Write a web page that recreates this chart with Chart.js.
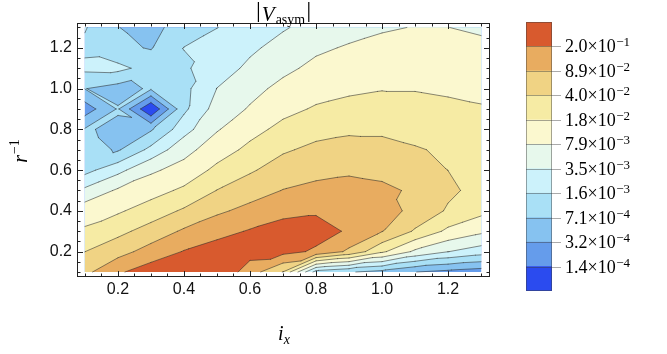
<!DOCTYPE html>
<html>
<head>
<meta charset="utf-8">
<script src="https://cdn.jsdelivr.net/npm/chart.js@4"></script>
<style>
  html, body { margin: 0; padding: 0; background: #fff; }
  #wrap { position: relative; width: 667px; height: 354px; }
  #main { position: absolute; left: 0; top: 0; }
  #bar { position: absolute; left: 500px; top: 0; }
</style>
</head>
<body>
<div id="wrap">
  <canvas id="main" width="667" height="354"></canvas>
  <canvas id="bar" width="167" height="354"></canvas>
</div>
<script>
// grid of the contour plot
const xs = [0.1, 0.2, 0.3, 0.4, 0.5, 0.6, 0.7, 0.8, 0.9, 1.0, 1.1, 1.2, 1.3];
const ys = [0.1, 0.2, 0.3, 0.4, 0.5, 0.6, 0.7, 0.8, 0.9, 1.0, 1.1, 1.2, 1.3];

// log10 |V_asym|, one row per r^-1 value (bottom row first)
const logV = [
  [-1.14, -0.75, -0.51, -0.35, -0.38, -0.88, -1.41, -2.94, -3.12, -3.26, -3.49, -3.59, -3.68],
  [-1.40, -1.18, -0.91, -0.68, -0.53, -0.56, -0.59, -0.75, -1.12, -1.68, -2.17, -2.45, -2.63],
  [-1.70, -1.49, -1.26, -1.00, -0.82, -0.67, -0.56, -0.56, -0.74, -1.04, -1.44, -1.82, -2.03],
  [-1.89, -1.79, -1.58, -1.35, -1.11, -0.95, -0.79, -0.74, -0.79, -0.91, -1.14, -1.44, -1.65],
  [-2.38, -2.05, -1.88, -1.68, -1.39, -1.20, -1.04, -0.96, -0.93, -0.98, -1.10, -1.33, -1.51],
  [-2.91, -2.56, -2.16, -1.97, -1.66, -1.44, -1.24, -1.15, -1.10, -1.14, -1.19, -1.40, -1.45],
  [-2.98, -3.19, -2.70, -2.22, -1.91, -1.66, -1.44, -1.32, -1.28, -1.30, -1.37, -1.45, -1.47],
  [-3.12, -3.21, -3.19, -2.59, -2.13, -1.86, -1.65, -1.51, -1.45, -1.45, -1.51, -1.54, -1.58],
  [-3.68, -3.12, -4.20, -2.87, -2.31, -2.07, -1.84, -1.71, -1.65, -1.62, -1.65, -1.68, -1.72],
  [-3.14, -3.29, -3.10, -2.89, -2.45, -2.21, -2.01, -1.87, -1.80, -1.76, -1.76, -1.79, -1.82],
  [-2.72, -2.70, -2.94, -2.84, -2.63, -2.38, -2.18, -2.02, -1.93, -1.87, -1.86, -1.86, -1.93],
  [-2.87, -3.08, -3.17, -2.79, -2.70, -2.52, -2.33, -2.16, -2.07, -2.00, -1.96, -1.98, -2.03],
  [-2.77, -3.14, -3.29, -2.94, -2.80, -2.70, -2.49, -2.33, -2.22, -2.14, -2.09, -2.10, -2.15]
];

// contour levels = colour bar tick labels
const levelMant = ['1.4', '3.2', '7.1', '1.6', '3.5', '7.9', '1.8', '4.0', '8.9', '2.0'];
const levelExp = [-4, -4, -4, -3, -3, -3, -2, -2, -2, -1];
const bandColors = ['#2b4bef', '#659ceb', '#86c2f0', '#a9e0f6', '#ccf2fb', '#e7f8ec',
                    '#fbf8cf', '#f6eba4', '#f0d384', '#e8ac60', '#d85a2e'];

const xMajor = [0.2, 0.4, 0.6, 0.8, 1.0, 1.2];
const yMajor = [0.2, 0.4, 0.6, 0.8, 1.0, 1.2];
const minorTicks = [0.1, 0.15, 0.2, 0.25, 0.3, 0.35, 0.4, 0.45, 0.5, 0.55, 0.6, 0.65, 0.7,
                    0.75, 0.8, 0.85, 0.9, 0.95, 1.0, 1.05, 1.1, 1.15, 1.2, 1.25, 1.3];

const levels = levelMant.map((m, i) => Math.log10(parseFloat(m) * Math.pow(10, levelExp[i])));

// split every grid cell in two triangles
const tris = [];
for (let j = 0; j < ys.length - 1; j++) {
  for (let i = 0; i < xs.length - 1; i++) {
    const a = { x: xs[i], y: ys[j], v: logV[j][i] };
    const b = { x: xs[i + 1], y: ys[j], v: logV[j][i + 1] };
    const c = { x: xs[i + 1], y: ys[j + 1], v: logV[j + 1][i + 1] };
    const d = { x: xs[i], y: ys[j + 1], v: logV[j + 1][i] };
    if (Math.abs(a.v - c.v) <= Math.abs(b.v - d.v)) tris.push([a, b, c], [a, c, d]);
    else tris.push([a, b, d], [b, c, d]);
  }
}

// part of a polygon where v >= level
function clipPoly(pts, level) {
  const out = [];
  for (let i = 0; i < pts.length; i++) {
    const a = pts[i], b = pts[(i + 1) % pts.length];
    const ain = a.v >= level, bin = b.v >= level;
    if (ain) out.push(a);
    if (ain !== bin) {
      const t = (level - a.v) / (b.v - a.v);
      out.push({ x: a.x + t * (b.x - a.x), y: a.y + t * (b.y - a.y), v: level });
    }
  }
  return out;
}

function addPoly(ctx, p) {
  ctx.moveTo(p[0].x, p[0].y);
  for (let i = 1; i < p.length; i++) ctx.lineTo(p[i].x, p[i].y);
  ctx.closePath();
}

const SERIF = '"Liberation Serif", "Times New Roman", serif';

const contourPlugin = {
  id: 'contour',
  beforeDatasetsDraw(chart) {
    const { ctx, scales: { x, y } } = chart;
    const ptris = tris.map(t => t.map(p => ({ x: x.getPixelForValue(p.x), y: y.getPixelForValue(p.y), v: p.v })));
    ctx.save();
    ctx.fillStyle = bandColors[0];
    ctx.beginPath();
    ptris.forEach(t => addPoly(ctx, t));
    ctx.fill();
    levels.forEach((lv, k) => {
      ctx.fillStyle = bandColors[k + 1];
      ctx.beginPath();
      ptris.forEach(t => {
        const p = clipPoly(t, lv);
        if (p.length >= 3) addPoly(ctx, p);
      });
      ctx.fill();
    });
    // contour lines
    ctx.strokeStyle = 'rgba(40,40,40,0.6)';
    ctx.lineWidth = 0.9;
    ctx.lineCap = 'round';
    ctx.beginPath();
    levels.forEach(lv => ptris.forEach(t => {
      const pts = [];
      for (let e = 0; e < 3; e++) {
        const a = t[e], b = t[(e + 1) % 3];
        if ((a.v >= lv) !== (b.v >= lv)) {
          const s = (lv - a.v) / (b.v - a.v);
          pts.push([a.x + s * (b.x - a.x), a.y + s * (b.y - a.y)]);
        }
      }
      if (pts.length === 2) { ctx.moveTo(pts[0][0], pts[0][1]); ctx.lineTo(pts[1][0], pts[1][1]); }
    }));
    ctx.stroke();
    ctx.restore();
  },
  afterDraw(chart) {
    const { ctx, chartArea: ca, scales: { x, y } } = chart;
    ctx.save();
    // frame
    ctx.strokeStyle = '#222';
    ctx.lineWidth = 1;
    ctx.strokeRect(ca.left + 0.5, ca.top + 0.5, ca.right - ca.left - 1, ca.bottom - ca.top - 1);
    // inward ticks on all four sides
    ctx.beginPath();
    minorTicks.forEach(t => {
      const px = Math.round(x.getPixelForValue(t)) + 0.5;
      const lx = xMajor.some(m => Math.abs(m - t) < 1e-6) ? 6 : 3.5;
      ctx.moveTo(px, ca.bottom); ctx.lineTo(px, ca.bottom - lx);
      ctx.moveTo(px, ca.top); ctx.lineTo(px, ca.top + lx);
      const py = Math.round(y.getPixelForValue(t)) + 0.5;
      const ly = yMajor.some(m => Math.abs(m - t) < 1e-6) ? 6 : 3.5;
      ctx.moveTo(ca.left, py); ctx.lineTo(ca.left + ly, py);
      ctx.moveTo(ca.right, py); ctx.lineTo(ca.right - ly, py);
    });
    ctx.stroke();

    ctx.fillStyle = '#000';
    ctx.textBaseline = 'alphabetic';
    // title |V_asym|
    ctx.font = 'italic 21px ' + SERIF;
    const wV = ctx.measureText('V').width;
    ctx.font = '14px ' + SERIF;
    const wS = ctx.measureText('asym').width;
    const total = 4 + wV + 1 + wS + 4;
    let tx = (ca.left + ca.right) / 2 - total / 2;
    ctx.fillRect(tx, 2, 1.2, 20);
    tx += 4;
    ctx.font = 'italic 21px ' + SERIF;
    ctx.textAlign = 'left';
    ctx.fillText('V', tx, 20.5);
    tx += wV + 1;
    ctx.font = '14px ' + SERIF;
    ctx.fillText('asym', tx, 24);
    tx += wS + 3;
    ctx.fillRect(tx, 2, 1.2, 20);

    // x axis title i_x
    ctx.font = 'italic 20px ' + SERIF;
    const wi = ctx.measureText('i').width;
    ctx.font = 'italic 14px ' + SERIF;
    const wx = ctx.measureText('x').width;
    let ix = 284 - (wi + wx) / 2;
    ctx.font = 'italic 20px ' + SERIF;
    ctx.fillText('i', ix, 340);
    ctx.font = 'italic 14px ' + SERIF;
    ctx.fillText('x', ix + wi, 344);

    // y axis title r^-1
    ctx.translate(27, 151);
    ctx.rotate(-Math.PI / 2);
    ctx.font = 'italic 20px ' + SERIF;
    const wr = ctx.measureText('r').width;
    ctx.font = '14px ' + SERIF;
    const we = ctx.measureText('\u22121').width;
    let rx = -(wr + 1 + we) / 2;
    ctx.font = 'italic 20px ' + SERIF;
    ctx.fillText('r', rx, 0);
    ctx.font = '14px ' + SERIF;
    ctx.fillText('\u22121', rx + wr + 1, -8);
    ctx.restore();
  }
};

const tickFont = { family: '"Liberation Sans", Arial, sans-serif', size: 16 };

new Chart(document.getElementById('main'), {
  type: 'scatter',
  data: { datasets: [] },
  options: {
    responsive: false,
    animation: false,
    layout: { padding: { left: 0, top: 23, right: 177, bottom: 0 } },
    plugins: { legend: { display: false }, tooltip: { enabled: false } },
    scales: {
      x: {
        type: 'linear', min: 0.076, max: 1.327,
        grid: { display: false, drawTicks: false },
        border: { display: false },
        ticks: { font: tickFont, color: '#111', padding: 3, autoSkip: false, maxRotation: 0,
                 callback: v => v.toFixed(1) },
        afterBuildTicks: s => { s.ticks = xMajor.map(v => ({ value: v })); },
        afterFit: s => { s.height = 77; }
      },
      y: {
        type: 'linear', min: 0.0755, max: 1.322,
        grid: { display: false, drawTicks: false },
        border: { display: false },
        ticks: { font: tickFont, color: '#111', padding: 5, autoSkip: false,
                 callback: v => v.toFixed(1) },
        afterBuildTicks: s => { s.ticks = yMajor.map(v => ({ value: v })); },
        afterFit: s => { s.width = 77; }
      }
    }
  },
  plugins: [contourPlugin]
});

// colour bar
const barLabels = {
  id: 'barLabels',
  afterDraw(chart) {
    const { ctx, chartArea: ca, scales: { y } } = chart;
    ctx.save();
    ctx.strokeStyle = 'rgba(60,60,60,0.45)';
    ctx.lineWidth = 1;
    ctx.beginPath();
    for (let k = 1; k < bandColors.length; k++) {
      const py = Math.round(y.getPixelForValue(k)) + 0.5;
      ctx.moveTo(ca.left, py); ctx.lineTo(ca.right, py);
    }
    ctx.stroke();
    ctx.strokeRect(ca.left + 0.5, ca.top + 0.5, ca.right - ca.left - 1, ca.bottom - ca.top - 1);
    ctx.strokeStyle = '#aaa';
    ctx.beginPath();
    levelMant.forEach((m, k) => {
      const py = Math.round(y.getPixelForValue(k + 1)) + 0.5;
      ctx.moveTo(ca.right, py); ctx.lineTo(ca.right + 9, py);
    });
    ctx.stroke();
    ctx.fillStyle = '#000';
    ctx.textAlign = 'left';
    ctx.textBaseline = 'alphabetic';
    levelMant.forEach((m, k) => {
      const py = y.getPixelForValue(k + 1);
      const base = m + '\u00d710';
      ctx.font = '18px ' + SERIF;
      ctx.fillText(base, ca.right + 13, py + 6);
      const w = ctx.measureText(base).width;
      ctx.font = '13px ' + SERIF;
      ctx.fillText('\u2212' + Math.abs(levelExp[k]), ca.right + 13 + w + 0.5, py);
    });
    ctx.restore();
  }
};

new Chart(document.getElementById('bar'), {
  type: 'bar',
  data: {
    labels: [''],
    datasets: bandColors.map(c => ({ data: [1], backgroundColor: c, borderWidth: 0,
                                     barPercentage: 1, categoryPercentage: 1 }))
  },
  options: {
    responsive: false,
    animation: false,
    layout: { padding: { left: 26, right: 115, top: 22, bottom: 63 } },
    plugins: { legend: { display: false }, tooltip: { enabled: false } },
    scales: {
      x: { display: false, stacked: true },
      y: { display: false, stacked: true, min: 0, max: 11 }
    }
  },
  plugins: [barLabels]
});
</script>
</body>
</html>
